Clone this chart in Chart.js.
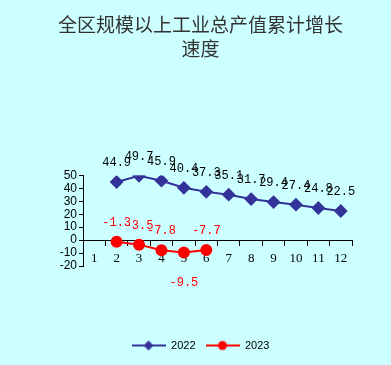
<!DOCTYPE html>
<html>
<head>
<meta charset="utf-8">
<script src="https://cdn.jsdelivr.net/npm/chart.js@4"></script>
<style>
  html, body { margin: 0; padding: 0; background: #CCFFFF; }
  #box { width: 391px; height: 365px; }
</style>
</head>
<body>
<div id="box"><canvas id="lineChart"></canvas></div>
<script>
// 月份
var months = ["1", "2", "3", "4", "5", "6", "7", "8", "9", "10", "11", "12"];
// 累计增长速度 (%)
var growth2022 = [null, 44.9, 49.7, 45.9, 40.4, 37.3, 35.1, 31.7, 29.4, 27.4, 24.8, 22.5];
var growth2023 = [null, -1.3, -3.5, -7.8, -9.5, -7.7, null, null, null, null, null, null];
// 纵轴刻度
var yMin = -20;
var yMax = 50;
var yStep = 10;

var blue = "#333399";
var red = "#FF0000";

// 图例里的小图标: 线 + 标记
function legendIcon(color, shape) {
  var c = document.createElement("canvas");
  c.width = 34;
  c.height = 12;
  var g = c.getContext("2d");
  g.strokeStyle = color;
  g.lineWidth = 2;
  g.beginPath();
  g.moveTo(0, 6);
  g.lineTo(34, 6);
  g.stroke();
  g.fillStyle = color;
  g.beginPath();
  if (shape === "diamond") {
    g.moveTo(17, 1); g.lineTo(22, 6); g.lineTo(17, 11); g.lineTo(12, 6);
  } else {
    g.arc(17, 6, 4.5, 0, Math.PI * 2);
  }
  g.closePath();
  g.fill();
  return c;
}
var icons = [legendIcon(blue, "diamond"), legendIcon(red, "circle")];

// 数据标签
var valueLabels = {
  id: "valueLabels",
  afterDatasetsDraw: function(chart) {
    var ctx = chart.ctx;
    ctx.save();
    ctx.font = "12px 'Liberation Mono'";
    ctx.textAlign = "center";
    ctx.textBaseline = "middle";
    chart.data.datasets.forEach(function(ds, i) {
      var meta = chart.getDatasetMeta(i);
      var vals = ds.data.filter(function(v) { return v !== null; });
      var lowest = Math.min.apply(null, vals);
      ctx.fillStyle = i === 0 ? "#000000" : red;
      meta.data.forEach(function(pt, j) {
        var v = ds.data[j];
        if (v === null) return;
        var below = i === 1 && v === lowest;
        ctx.fillText(String(v), pt.x, below ? pt.y + 30 : pt.y - 19);
      });
    });
    ctx.restore();
  }
};

var ctx = document.getElementById("lineChart").getContext("2d");
var lineChart = new Chart(ctx, {
  type: "line",
  data: {
    labels: months,
    datasets: [{
      label: "2022",
      data: growth2022,
      borderColor: blue,
      backgroundColor: blue,
      borderWidth: 2,
      pointStyle: "rectRot",
      pointRadius: 5.5,
      pointHoverRadius: 5.5,
      xAxisID: "x",
      yAxisID: "y"
    }, {
      label: "2023",
      data: growth2023,
      borderColor: red,
      backgroundColor: red,
      borderWidth: 2,
      pointStyle: "circle",
      pointRadius: 5,
      pointHoverRadius: 5,
      xAxisID: "x",
      yAxisID: "y"
    }]
  },
  options: {
    responsive: true,
    maintainAspectRatio: false,
    animation: false,
    layout: { padding: { left: 10, right: 0, top: 0, bottom: 4 } },
    scales: {
      x: {
        type: "category",
        position: { y: 0 },
        offset: true,
        grid: { offset: true, drawOnChartArea: false, tickLength: 5, color: "#000000" },
        border: { color: "#000000", width: 1 },
        ticks: { color: "#000000", padding: 6, autoSkip: false, maxRotation: 0, font: { family: "'Liberation Serif'", size: 13 } }
      },
      y: {
        min: yMin,
        max: yMax,
        position: "left",
        grid: { drawOnChartArea: false, tickLength: 4, color: "#000000" },
        border: { color: "#000000", width: 1 },
        ticks: { stepSize: yStep, autoSkip: false, color: "#000000", padding: 2, font: { family: "'Liberation Sans'", size: 12 } },
        afterFit: function(s) { s.width = 73; }
      },
      padBottom: {
        type: "category",
        position: "bottom",
        labels: [],
        grid: { display: false },
        border: { display: false },
        ticks: { display: false },
        afterFit: function(s) { s.height = 64; }
      },
      padRight: {
        type: "linear",
        position: "right",
        grid: { display: false },
        border: { display: false },
        ticks: { display: false },
        afterFit: function(s) { s.width = 39; }
      }
    },
    plugins: {
      title: {
        display: true,
        text: ["全区规模以上工业总产值累计增长", "速度"],
        color: "#333333",
        font: { family: "'Noto Sans CJK SC'", size: 19, weight: "normal", lineHeight: 1.3 },
        padding: { top: 12, bottom: 114 }
      },
      legend: {
        position: "bottom",
        labels: {
          usePointStyle: true,
          pointStyleWidth: 34,
          color: "#000000",
          padding: 10,
          font: { family: "'Liberation Sans'", size: 11 },
          generateLabels: function(chart) {
            var items = Chart.defaults.plugins.legend.labels.generateLabels(chart);
            items.forEach(function(it, k) { it.pointStyle = icons[k]; });
            return items;
          }
        }
      },
      tooltip: { enabled: false }
    }
  },
  plugins: [valueLabels]
});
</script>
</body>
</html>
